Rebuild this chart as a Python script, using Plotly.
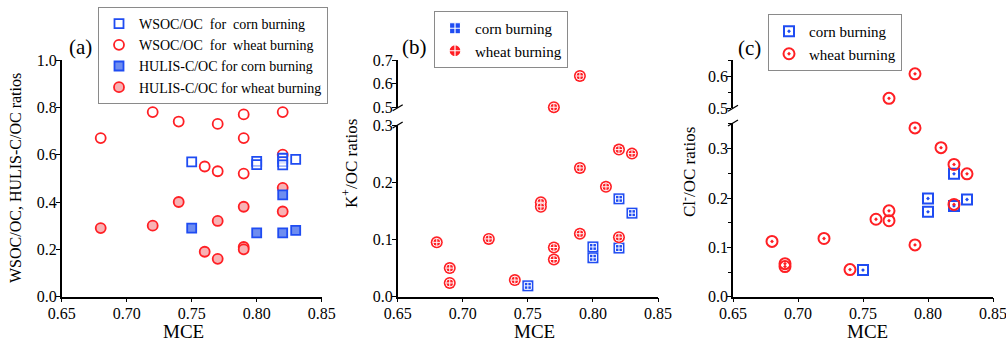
import plotly.graph_objects as go

W, H = 1006, 344
def px(x): return x / W
def py(y): return 1 - y / H

# ---------------- data ----------------
# Panel (a)
a_wsoc_corn_x = [0.75, 0.80, 0.80, 0.82, 0.82, 0.82, 0.83]
a_wsoc_corn_y = [0.57, 0.572, 0.558, 0.585, 0.571, 0.557, 0.58]
a_wsoc_wheat_x = [0.68, 0.72, 0.74, 0.77, 0.79, 0.79, 0.82, 0.82, 0.76, 0.77, 0.79]
a_wsoc_wheat_y = [0.67, 0.78, 0.74, 0.73, 0.77, 0.67, 0.78, 0.60, 0.55, 0.53, 0.52]
a_hulis_corn_x = [0.75, 0.80, 0.82, 0.82, 0.83]
a_hulis_corn_y = [0.29, 0.27, 0.27, 0.43, 0.28]
a_hulis_wheat_x = [0.68, 0.72, 0.74, 0.77, 0.76, 0.77, 0.79, 0.79, 0.79, 0.82, 0.82]
a_hulis_wheat_y = [0.29, 0.30, 0.40, 0.32, 0.19, 0.16, 0.38, 0.21, 0.20, 0.46, 0.36]

# Panel (b) K+/OC
b_corn_x = [0.75, 0.80, 0.80, 0.82, 0.82, 0.83]
b_corn_y = [0.019, 0.087, 0.068, 0.171, 0.085, 0.146]
b_wheat_x = [0.68, 0.69, 0.69, 0.72, 0.74, 0.76, 0.76, 0.77, 0.77, 0.77, 0.79, 0.79, 0.79, 0.81, 0.82, 0.82, 0.83]
b_wheat_y = [0.095, 0.050, 0.024, 0.101, 0.029, 0.165, 0.157, 0.086, 0.065, 0.502, 0.225, 0.110, 0.633, 0.192, 0.257, 0.104, 0.250]

# Panel (c) Cl-/OC
c_corn_x = [0.75, 0.80, 0.80, 0.82, 0.82, 0.83]
c_corn_y = [0.054, 0.199, 0.172, 0.249, 0.184, 0.197]
c_wheat_x = [0.68, 0.69, 0.69, 0.72, 0.74, 0.76, 0.77, 0.77, 0.77, 0.79, 0.79, 0.79, 0.81, 0.82, 0.82, 0.83]
c_wheat_y = [0.112, 0.067, 0.061, 0.118, 0.055, 0.157, 0.174, 0.154, 0.531, 0.105, 0.342, 0.607, 0.302, 0.268, 0.187, 0.249]

x_ticks = [0.65, 0.70, 0.75, 0.80, 0.85]

# ---------------- styles ----------------
BLUE = "#1f4cf2"
RED = "#ff1f24"
BLUE_FILL = "#6e8df0"
PINK_FILL = "#f8b2b4"
FONT = "Liberation Serif"

fig = go.Figure()

def split(xs, ys, brk):
    lo = [(x, y) for x, y in zip(xs, ys) if y <= brk]
    hi = [(x, y) for x, y in zip(xs, ys) if y > brk]
    return ([p[0] for p in lo], [p[1] for p in lo]), ([p[0] for p in hi], [p[1] for p in hi])

# ---- panel (a) ----
fig.add_trace(go.Scatter(x=a_wsoc_wheat_x, y=a_wsoc_wheat_y, mode="markers",
    name="WSOC/OC\u00a0\u00a0for\u00a0\u00a0wheat burning", legend="legend", legendrank=2,
    marker=dict(symbol="circle", size=10, color="rgba(0,0,0,0)", line=dict(color=RED, width=1.8)),
    xaxis="x", yaxis="y", cliponaxis=False))
fig.add_trace(go.Scatter(x=a_hulis_wheat_x, y=a_hulis_wheat_y, mode="markers",
    name="HULIS-C/OC for wheat burning", legend="legend", legendrank=4,
    marker=dict(symbol="circle", size=10, color=PINK_FILL, line=dict(color=RED, width=1.8)),
    xaxis="x", yaxis="y", cliponaxis=False))
fig.add_trace(go.Scatter(x=a_wsoc_corn_x, y=a_wsoc_corn_y, mode="markers",
    name="WSOC/OC\u00a0\u00a0for\u00a0\u00a0corn burning", legend="legend", legendrank=1,
    marker=dict(symbol="square", size=9, color="rgba(255,255,255,0.6)", line=dict(color=BLUE, width=1.8)),
    xaxis="x", yaxis="y", cliponaxis=False))
fig.add_trace(go.Scatter(x=a_hulis_corn_x, y=a_hulis_corn_y, mode="markers",
    name="HULIS-C/OC for corn burning", legend="legend", legendrank=3,
    marker=dict(symbol="square", size=9, color=BLUE_FILL, line=dict(color=BLUE, width=1.8)),
    xaxis="x", yaxis="y", cliponaxis=False))

# ---- panel (b) ----
def layered(xs, ys, ya, show, name, rank, base_sym, top_sym, color, base_size, top_size):
    fig.add_trace(go.Scatter(x=xs, y=ys, mode="markers", name=name, showlegend=show,
        legend="legend2", legendrank=rank,
        marker=dict(symbol=top_sym, size=base_size, color=color, line=dict(color="white", width=1.2)),
        xaxis="x2", yaxis=ya, cliponaxis=False))
    fig.add_trace(go.Scatter(x=xs, y=ys, mode="markers", showlegend=False, legend="legend2",
        marker=dict(symbol=base_sym, size=base_size, color=color, line=dict(width=0)),
        xaxis="x2", yaxis=ya, cliponaxis=False, hoverinfo="skip"))
    fig.add_trace(go.Scatter(x=xs, y=ys, mode="markers", showlegend=False, legend="legend2",
        marker=dict(symbol=top_sym, size=top_size, color=color, line=dict(color="white", width=1)),
        xaxis="x2", yaxis=ya, cliponaxis=False, hoverinfo="skip"))

b_corn_lo, b_corn_hi = split(b_corn_x, b_corn_y, 0.4)
b_wheat_lo, b_wheat_hi = split(b_wheat_x, b_wheat_y, 0.4)
for (xs, ys), ya, show in [(b_corn_lo, "y2", True), (b_corn_hi, "y3", False)]:
    if xs:
        layered(xs, ys, ya, show, "corn burning", 1, "square", "square-cross", BLUE, 11, 7)
for (xs, ys), ya, show in [(b_wheat_lo, "y2", True), (b_wheat_hi, "y3", False)]:
    if xs:
        layered(xs, ys, ya, show, "wheat burning", 2, "circle", "circle-cross", RED, 12, 8)

# ---- panel (c) ----
c_corn_lo, c_corn_hi = split(c_corn_x, c_corn_y, 0.4)
c_wheat_lo, c_wheat_hi = split(c_wheat_x, c_wheat_y, 0.4)
for (xs, ys), ya, show in [(c_corn_lo, "y4", True), (c_corn_hi, "y5", False)]:
    if xs:
        fig.add_trace(go.Scatter(x=xs, y=ys, mode="markers", name="corn burning", showlegend=show,
            legend="legend3", legendrank=1,
            marker=dict(symbol="square-open-dot", size=10, color=BLUE, line=dict(color=BLUE, width=2)),
            xaxis="x3", yaxis=ya, cliponaxis=False))
for (xs, ys), ya, show in [(c_wheat_lo, "y4", True), (c_wheat_hi, "y5", False)]:
    if xs:
        fig.add_trace(go.Scatter(x=xs, y=ys, mode="markers", name="wheat burning", showlegend=show,
            legend="legend3", legendrank=2,
            marker=dict(symbol="circle-open-dot", size=11, color=RED, line=dict(color=RED, width=2)),
            xaxis="x3", yaxis=ya, cliponaxis=False))

# ---------------- axes ----------------
tickfont = dict(family=FONT, size=16, color="black")
common = dict(showline=True, linecolor="black", linewidth=1.5, ticks="outside", ticklen=4,
              tickwidth=1.3, tickcolor="black", showgrid=False, zeroline=False,
              tickfont=tickfont, mirror=False, automargin=False, ticklabeloverflow="allow")

def xax(dom, anchor):
    return dict(domain=dom, anchor=anchor, range=[0.65, 0.85], tickvals=x_ticks,
                ticktext=[f"{v:.2f}" for v in x_ticks], ticklabelstandoff=-3, **common)

def yax(dom, anchor, rng, t0, **kw):
    return dict(domain=dom, anchor=anchor, range=rng, tick0=t0, tickformat=".1f",
                ticklabelstandoff=-4, **kw, **common)

fig.update_layout(
    xaxis=xax([px(61.7), px(321.7)], "y"),
    yaxis=yax([py(296.7), py(60)], "x", [0, 1], 0, dtick=0.2),
    xaxis2=xax([px(397.7), px(658)], "y2"),
    yaxis2=yax([py(296.7), py(125)], "x2", [0, 0.3], 0, dtick=0.1),
    yaxis3=yax([py(107.7), py(60)], "x2", [0.5, 0.7], 0.5, dtick=0.1),
    xaxis3=xax([px(733), px(993)], "y4"),
    yaxis4=yax([py(296.7), py(123)], "x3", [0, 0.352], 0, dtick=0.1,
               minor=dict(ticks="outside", ticklen=3, dtick=0.05, tick0=0, tickcolor="black")),
    yaxis5=yax([py(108.3), py(60)], "x3", [0.5, 0.65], 0.5, dtick=0.1,
               minor=dict(ticks="outside", ticklen=3, dtick=0.05, tick0=0.5, tickcolor="black")),
)

# ---------------- legends ----------------
def leg(x, y, size):
    return dict(x=px(x), y=py(y), xanchor="left", yanchor="top", bgcolor="rgba(255,255,255,0)",
                bordercolor="#8a8a8a", borderwidth=1, font=dict(family=FONT, size=size, color="black"),
                itemwidth=30, tracegroupgap=0, traceorder="normal")

fig.update_layout(legend=leg(98, 7, 14), legend2=leg(434, 11, 15), legend3=leg(768, 14, 15))

# ---------------- annotations ----------------
ann = []
def text(x, y, s, size, angle=0, yanchor="middle"):
    ann.append(dict(x=px(x), y=py(y), xref="paper", yref="paper", text=s, showarrow=False,
                    textangle=angle, font=dict(family=FONT, size=size, color="black"),
                    xanchor="center", yanchor=yanchor))
text(80, 47, "(a)", 21)
text(414, 47, "(b)", 21)
text(749, 48, "(c)", 21)
text(183, 344, "MCE", 19, yanchor="bottom")
text(534, 344, "MCE", 19, yanchor="bottom")
text(867, 344, "MCE", 19, yanchor="bottom")
text(15, 178, "WSOC/OC, HULIS-C/OC ratios", 16, -90)
text(350, 164, "K<sup>+</sup>/OC ratios", 17, -90)
text(688, 172, "Cl<sup>-</sup>/OC ratios", 17, -90)
fig.update_layout(annotations=ann)

# ---------------- axis-break marks ----------------
shapes = []
def brk(xa, ya):
    shapes.append(dict(type="line", xref="paper", yref="paper",
                       x0=px(xa - 5), y0=py(ya + 3), x1=px(xa + 5), y1=py(ya - 3),
                       line=dict(color="black", width=1.3)))
brk(397.7, 107.7); brk(397.7, 125)
brk(733, 108.3); brk(733, 123)
fig.update_layout(shapes=shapes)

fig.update_layout(width=W, height=H, margin=dict(l=0, r=0, t=0, b=0, autoexpand=False),
                  paper_bgcolor="white", plot_bgcolor="white", showlegend=True,
                  font=dict(family=FONT, color="black"))

fig.write_html("out.html", config={"displayModeBar": False},
               post_script="document.body.style.margin='0';document.body.style.overflow='hidden';")
